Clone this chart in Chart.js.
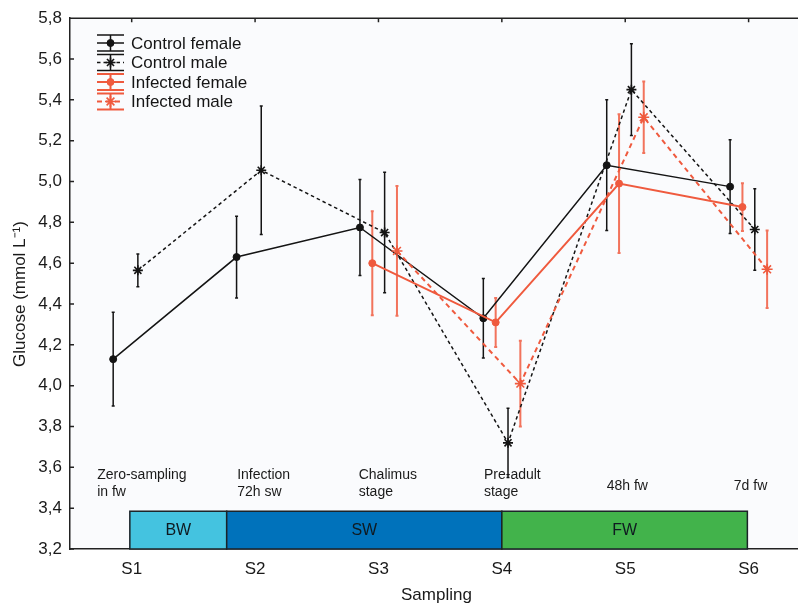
<!DOCTYPE html>
<html>
<head>
<meta charset="utf-8">
<script src="https://cdn.jsdelivr.net/npm/chart.js@4.4.1/dist/chart.umd.min.js"></script>
<style>
    html, body { margin: 0; padding: 0; background: #ffffff; overflow: hidden; }
    #wrap { width: 810px; height: 606px; }
</style>
</head>
<body>
<div id="wrap"><canvas id="glucose" width="810" height="606"></canvas></div>
<script>
(function () {
    // Sampling points and mean glucose (mmol/L) with error bars per group
    const samplings = ["S1", "S2", "S3", "S4", "S5", "S6"];
    const controlFemale = [4.13, 4.63, 4.775, 4.33, 5.08, 4.975];
    const controlFemaleErr = [0.23, 0.2, 0.235, 0.195, 0.32, 0.23];
    const controlMale = [4.565, 5.055, 4.75, 3.72, 5.45, 4.765];
    const controlMaleErr = [0.08, 0.315, 0.295, 0.17, 0.225, 0.2];
    const infectedFemale = [null, null, 4.6, 4.31, 4.99, 4.875];
    const infectedFemaleErr = [null, null, 0.255, 0.12, 0.34, 0.117];
    const infectedMale = [null, null, 4.66, 4.01, 5.315, 4.57];
    const infectedMaleErr = [null, null, 0.318, 0.21, 0.175, 0.19];

    // Water phases shown as boxes along the bottom of the plot
    const waterPhases = ["BW", "SW", "FW"];
    const phaseStart = [0.985, 1.77, 4.0];
    const phaseEnd = [1.77, 4.0, 5.99];
    const phaseTop = 3.385;

    // Stage notes above the phase boxes
    const stageNotes = [
        ["Zero-sampling", "in fw"],
        ["Infection", "72h sw"],
        ["Chalimus", "stage"],
        ["Pre-adult", "stage"],
        ["48h fw"],
        ["7d fw"]
    ];

    const yMin = 3.2;
    const yMax = 5.8;
    const yStep = 0.2;
    const yTitle = "Glucose (mmol L\u207B\u00B9)";

    // layout
    const xMin = 0.5;
    const xMax = 6.44;
    const noteX = [0.72, 1.855, 2.84, 3.855, 4.85, 5.88];
    const noteY = 3.52;
    const phaseColors = ["#44c3e0", "#0072bb", "#42b34b"];
    const BLACK = "#141414";
    const RED = "#ef5a3e";
    const RED_BAR = "rgba(241, 100, 74, 0.9)";
    const FONT = "'Liberation Sans', Arial, sans-serif";

    function toPoints(values, errors, offset) {
        const pts = [];
        const errs = [];
        values.forEach(function (v, i) {
            if (v === null) {
                return;
            }
            pts.push({ x: i + 1 + offset, y: v });
            errs.push(errors[i]);
        });
        return { pts: pts, errs: errs };
    }

    const cf = toPoints(controlFemale, controlFemaleErr, -0.15);
    const cm = toPoints(controlMale, controlMaleErr, 0.05);
    const inf = toPoints(infectedFemale, infectedFemaleErr, -0.05);
    const im = toPoints(infectedMale, infectedMaleErr, 0.15);

    function series(label, set, color, barColor, dash, style, radius, width) {
        return {
            label: label,
            data: set.pts,
            errors: set.errs,
            barColor: barColor,
            borderColor: color,
            backgroundColor: color,
            borderWidth: width,
            borderDash: dash,
            pointStyle: style,
            pointRadius: radius,
            pointBorderColor: color,
            pointBackgroundColor: color,
            pointBorderWidth: style === "star" ? 1.6 : 1,
            pointHoverRadius: radius,
            tension: 0,
            fill: false
        };
    }

    const datasets = [
        series("Infected female", inf, RED, RED_BAR, [], "circle", 3.5, 2),
        series("Infected male", im, RED, RED_BAR, [5, 4], "star", 5.5, 2),
        series("Control female", cf, BLACK, BLACK, [], "circle", 3.5, 1.5),
        series("Control male", cm, BLACK, BLACK, [3.5, 3], "star", 5, 1.5)
    ];
    const legendOrder = ["Control female", "Control male", "Infected female", "Infected male"];

    const plotBackground = {
        id: "plotBackground",
        beforeDraw: function (chart) {
            const a = chart.chartArea;
            const ctx = chart.ctx;
            ctx.save();
            ctx.fillStyle = "#fafbfd";
            ctx.fillRect(a.left, a.top, a.right - a.left, a.bottom - a.top);
            ctx.restore();
        }
    };

    const phaseBands = {
        id: "phaseBands",
        beforeDatasetsDraw: function (chart) {
            const ctx = chart.ctx;
            const x = chart.scales.x;
            const y = chart.scales.y;
            const top = y.getPixelForValue(phaseTop);
            const bottom = y.getPixelForValue(yMin);
            ctx.save();
            waterPhases.forEach(function (name, i) {
                const left = x.getPixelForValue(phaseStart[i]);
                const right = x.getPixelForValue(phaseEnd[i]);
                ctx.fillStyle = phaseColors[i];
                ctx.fillRect(left, top, right - left, bottom - top);
                ctx.strokeStyle = "#1b2328";
                ctx.lineWidth = 1.5;
                ctx.strokeRect(left, top, right - left, bottom - top);
                ctx.fillStyle = "#0f1a20";
                ctx.font = "16px " + FONT;
                ctx.textAlign = "center";
                ctx.textBaseline = "middle";
                ctx.fillText(name, (left + right) / 2, (top + bottom) / 2);
            });

            ctx.fillStyle = "#1a1a1a";
            ctx.font = "14px " + FONT;
            ctx.textAlign = "left";
            ctx.textBaseline = "middle";
            stageNotes.forEach(function (lines, i) {
                const px = x.getPixelForValue(noteX[i]);
                const mid = y.getPixelForValue(noteY);
                if (lines.length === 1) {
                    ctx.fillText(lines[0], px, mid + 2);
                } else {
                    ctx.fillText(lines[0], px, mid - 8.5);
                    ctx.fillText(lines[1], px, mid + 8.5);
                }
            });
            ctx.restore();
        }
    };

    const errorBars = {
        id: "errorBars",
        beforeDatasetsDraw: function (chart) {
            const ctx = chart.ctx;
            const y = chart.scales.y;
            ctx.save();
            chart.data.datasets.forEach(function (ds, di) {
                const meta = chart.getDatasetMeta(di);
                ctx.strokeStyle = ds.barColor;
                ctx.lineWidth = ds.borderWidth;
                meta.data.forEach(function (pt, i) {
                    const v = ds.data[i].y;
                    const e = ds.errors[i];
                    const yTop = y.getPixelForValue(v + e);
                    const yBot = y.getPixelForValue(v - e);
                    ctx.beginPath();
                    ctx.moveTo(pt.x, yTop);
                    ctx.lineTo(pt.x, yBot);
                    ctx.moveTo(pt.x - 1.5, yTop);
                    ctx.lineTo(pt.x + 1.5, yTop);
                    ctx.moveTo(pt.x - 1.5, yBot);
                    ctx.lineTo(pt.x + 1.5, yBot);
                    ctx.stroke();
                });
            });
            ctx.restore();
        }
    };

    const frameAndLegend = {
        id: "frameAndLegend",
        afterDraw: function (chart) {
            const ctx = chart.ctx;
            const a = chart.chartArea;
            const x = chart.scales.x;
            const y = chart.scales.y;
            ctx.save();
            ctx.strokeStyle = "#222";
            ctx.lineWidth = 1.5;
            ctx.beginPath();
            ctx.moveTo(a.left, a.top);
            ctx.lineTo(a.right, a.top);
            x.ticks.forEach(function (t) {
                const px = x.getPixelForValue(t.value);
                ctx.moveTo(px, a.top);
                ctx.lineTo(px, a.top + 4);
            });
            y.ticks.forEach(function (t) {
                const py = y.getPixelForValue(t.value);
                ctx.moveTo(a.left, py);
                ctx.lineTo(a.left + 4, py);
            });
            ctx.stroke();

            // rotated y axis title, sitting a little below the plot middle
            ctx.save();
            ctx.translate(20, 294);
            ctx.rotate(-Math.PI / 2);
            ctx.fillStyle = "#1a1a1a";
            ctx.font = "17px " + FONT;
            ctx.textAlign = "center";
            ctx.textBaseline = "middle";
            ctx.fillText(yTitle, 0, 0);
            ctx.restore();

            // legend: cap lines, vertical bar, series line and marker
            const rows = [43, 62.5, 82, 101.5];
            const x0 = 97;
            const x1 = 124;
            const xm = 110.5;
            legendOrder.forEach(function (label, r) {
                const ds = chart.data.datasets.find(function (d) { return d.label === label; });
                const cy = rows[r];
                ctx.strokeStyle = ds.borderColor;
                ctx.fillStyle = ds.borderColor;
                ctx.lineWidth = ds.borderWidth;
                ctx.setLineDash([]);
                ctx.beginPath();
                ctx.moveTo(x0, cy - 8);
                ctx.lineTo(x1, cy - 8);
                ctx.moveTo(x0, cy + 8);
                ctx.lineTo(x1, cy + 8);
                ctx.moveTo(xm, cy - 8);
                ctx.lineTo(xm, cy + 8);
                ctx.stroke();
                ctx.setLineDash(ds.borderDash);
                ctx.beginPath();
                ctx.moveTo(x0, cy);
                ctx.lineTo(x1, cy);
                ctx.stroke();
                ctx.setLineDash([]);
                ctx.lineWidth = ds.pointBorderWidth;
                Chart.helpers.drawPoint(ctx, {
                    pointStyle: ds.pointStyle,
                    radius: ds.pointRadius,
                    rotation: 0,
                    borderWidth: ds.pointBorderWidth
                }, xm, cy);
                ctx.fillStyle = "#151515";
                ctx.font = "17px " + FONT;
                ctx.textAlign = "left";
                ctx.textBaseline = "middle";
                ctx.fillText(label, 131, cy + 1);
            });
            ctx.restore();
        }
    };

    new Chart(document.getElementById("glucose").getContext("2d"), {
        type: "line",
        data: { datasets: datasets },
        plugins: [plotBackground, phaseBands, errorBars, frameAndLegend],
        options: {
            responsive: false,
            animation: false,
            events: [],
            layout: { padding: { top: 17, left: 0, right: 0, bottom: 0 } },
            plugins: {
                legend: { display: false },
                tooltip: { enabled: false },
                title: { display: false }
            },
            scales: {
                x: {
                    type: "linear",
                    min: xMin,
                    max: xMax,
                    grid: { display: false, drawTicks: false },
                    border: { display: true, color: "#222", width: 1.5 },
                    afterBuildTicks: function (scale) {
                        scale.ticks = samplings.map(function (s, i) { return { value: i + 1 }; });
                    },
                    afterFit: function (scale) { scale.height = 57; },
                    ticks: {
                        autoSkip: false,
                        maxRotation: 0,
                        padding: 10,
                        color: "#1a1a1a",
                        font: { family: FONT, size: 17 },
                        callback: function (v) { return samplings[Math.round(v) - 1]; }
                    },
                    title: {
                        display: true,
                        text: "Sampling",
                        color: "#1a1a1a",
                        padding: { top: 2, bottom: 0 },
                        font: { family: FONT, size: 17 }
                    }
                },
                y: {
                    min: yMin,
                    max: yMax,
                    grid: { display: false, drawTicks: false },
                    border: { display: true, color: "#222", width: 1.5 },
                    afterFit: function (scale) { scale.width = 70; },
                    ticks: {
                        stepSize: yStep,
                        padding: 8,
                        color: "#1a1a1a",
                        font: { family: FONT, size: 17 },
                        callback: function (v) { return v.toFixed(1).replace(".", ","); }
                    },
                    title: { display: false }
                }
            }
        }
    });
})();
</script>
</body>
</html>
